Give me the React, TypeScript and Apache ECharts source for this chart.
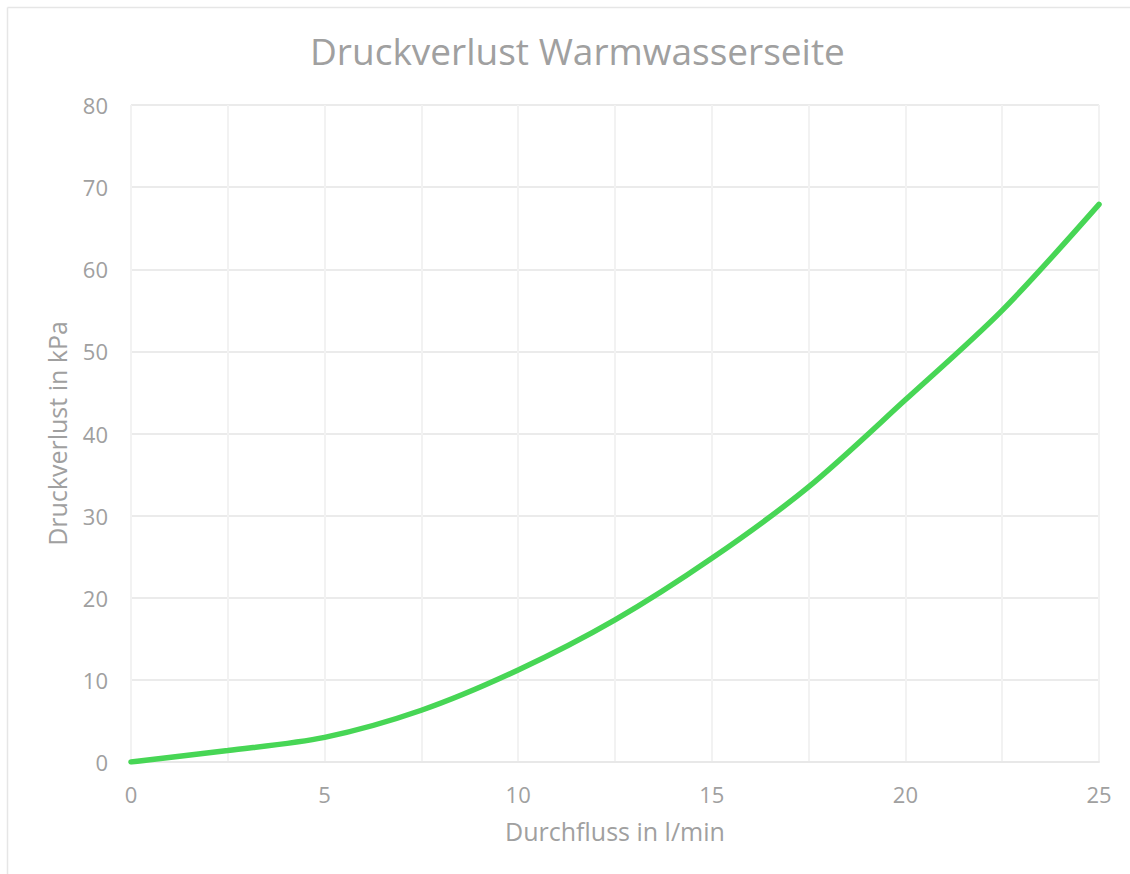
import React, { useEffect, useRef } from "react";
import * as echarts from "echarts";

const flowValues = [0, 2.5, 5, 7.5, 10, 12.5, 15, 17.5, 20, 22.5, 25];
const pressureLoss = [0, 1.4, 3.0, 6.3, 11.2, 17.3, 24.8, 33.5, 44.1, 55.0, 67.9];
const titleText = "Druckverlust Warmwasserseite";
const xName = "Durchfluss in l/min";
const yName = "Druckverlust in kPa";

export default function App() {
  const ref = useRef<HTMLDivElement>(null);
  useEffect(() => {
    if (!ref.current) return;
    const chart = echarts.init(ref.current, null, { renderer: "svg" });
    const font = "Open Sans";
    const textColor = "#a0a0a0";
    chart.setOption({
      animation: false,
      backgroundColor: "#ffffff",
      title: {
        text: titleText,
        left: 305,
        top: 27,
        textStyle: { color: textColor, fontFamily: font, fontSize: 37, fontWeight: "normal" },
      },
      graphic: [
        { type: "line", shape: { x1: 7.5, y1: 7.5, x2: 1130, y2: 7.5 }, style: { stroke: "#e6e6e6", lineWidth: 1.5 } },
        { type: "line", shape: { x1: 7.5, y1: 7.5, x2: 7.5, y2: 874 }, style: { stroke: "#e6e6e6", lineWidth: 1.5 } },
      ],
      grid: { left: 131, right: 31, top: 105, bottom: 112 },
      xAxis: {
        type: "value",
        min: 0,
        max: 25,
        interval: 2.5,
        name: xName,
        nameLocation: "middle",
        nameGap: 56,
        nameTextStyle: { color: textColor, fontFamily: font, fontSize: 25 },
        axisLine: { show: true, lineStyle: { color: "#e8e8e8", width: 2 } },
        axisTick: { show: false },
        axisLabel: {
          color: textColor,
          fontFamily: font,
          fontSize: 22,
          margin: 21,
          formatter: (v: number) => (v % 5 === 0 ? String(v) : ""),
        },
        splitLine: { show: true, lineStyle: { color: "#f2f2f2", width: 2 } },
      },
      yAxis: {
        type: "value",
        min: 0,
        max: 80,
        interval: 10,
        name: yName,
        nameLocation: "middle",
        nameGap: 62,
        nameTextStyle: { color: textColor, fontFamily: font, fontSize: 25 },
        axisLine: { show: false },
        axisTick: { show: false },
        axisLabel: { color: textColor, fontFamily: font, fontSize: 22, margin: 23 },
        splitLine: { show: true, lineStyle: { color: "#ebebeb", width: 2 } },
      },
      series: [
        {
          type: "line",
          data: flowValues.map((x, i) => [x, pressureLoss[i]]),
          smooth: 0.3,
          showSymbol: false,
          lineStyle: { color: "#47d655", width: 5.5, cap: "round" },
        },
      ],
    });
    return () => chart.dispose();
  }, []);
  return (
    <div
      ref={ref}
      style={{ position: "fixed", left: 0, top: 0, width: 1130, height: 874 }}
    />
  );
}
